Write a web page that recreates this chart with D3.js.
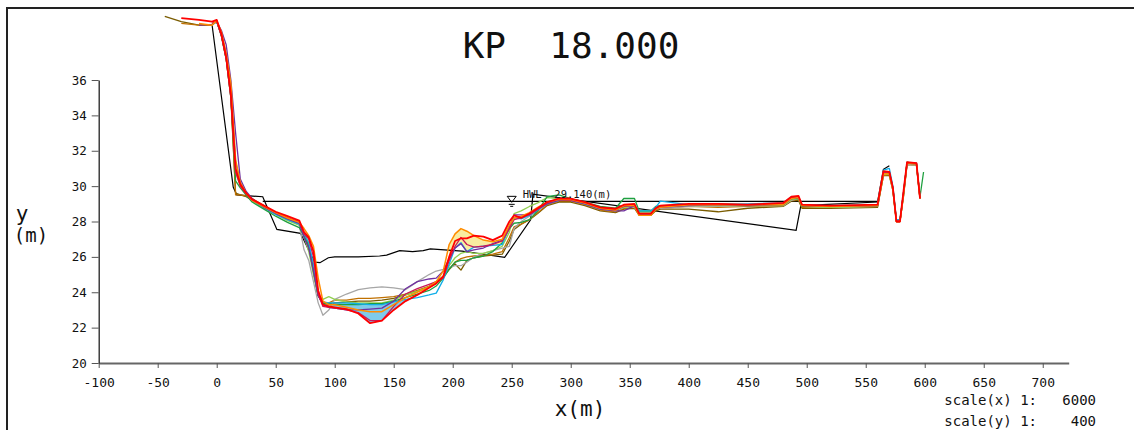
<!DOCTYPE html>
<html>
<head>
<meta charset="utf-8">
<script src="https://cdn.jsdelivr.net/npm/d3@7"></script>
<style>
  body { margin: 0; background: #fff; }
  text { font-family: "DejaVu Sans Mono", monospace; white-space: pre; }
</style>
</head>
<body>
<script>
// cross section KP 18.000 - survey lines

var xTicks = [-100, -50, 0, 50, 100, 150, 200, 250, 300, 350, 400, 450, 500, 550, 600, 650, 700];
var yTicks = [20, 22, 24, 26, 28, 30, 32, 34, 36];

// common distance grid (m) for the survey lines
var dist = [-44, -30, -15, -4, 0, 4, 8, 12, 16, 20, 25, 30, 40, 50, 60, 70, 74, 78, 82, 86,
  90, 95, 100, 110, 120, 130, 140, 150, 160, 170, 180, 186, 192, 197, 202, 207, 212, 218, 226, 234,
  242, 248, 252, 258, 265, 272, 280, 290, 300, 312, 325, 338, 345, 354, 358, 368, 372, 376, 400, 425,
  450, 480, 487, 493, 496, 520, 560, 565, 570, 573, 576, 579, 582, 585, 593, 596, 599];

// elevations (m), null = not surveyed
var olive = [39.6, 39.3, 39.1, 39.1, 39.35, 38.5, 37.2, 35.0, 29.6, 29.5, 29.4, 29.2, 28.85, 28.5, 28.15, 27.85, 27.2, 26.6, 25.1, 23.8,
  23.4, 23.35, 23.4, 23.45, 23.5, 23.5, 23.55, 23.65, 23.85, 24.05, 24.3, 24.5, 24.85, 25.3, 25.6, 25.25, 25.8, 25.95, 26.05, 26.1,
  26.15, 26.9, 27.55, 27.85, 28.1, 28.45, 28.9, 29.1, 29.1, 28.9, 28.6, 28.5, 28.7, 28.75, 28.35, 28.35, 28.6, 28.7, 28.7, 28.55,
  28.75, 28.85, 29.15, 29.2, 28.75, 28.75, 28.8, 30.6, 30.6, 29.75, 28.0, 28.0, 29.4, 31.2, 31.2, 29.3, null];
var brown = [null, 39.2, 39.1, 39.1, 39.35, 38.5, 37.3, 35.3, 29.5, 29.5, 29.45, 29.3, 28.9, 28.5, 28.2, 27.9, 27.3, 26.7, 25.3, 23.9,
  23.4, 23.4, 23.55, 23.55, 23.65, 23.65, 23.7, 23.75, 23.9, 24.1, 24.35, 24.6, 24.9, 25.3, 25.7, 25.9, 26.0, 26.05, 26.1, 26.15,
  26.3, 27.1, 27.7, 27.85, 28.1, 28.5, 28.95, 29.15, 29.15, 28.95, 28.65, 28.55, 28.75, 28.8, 28.4, 28.4, 28.65, 28.75, 28.85, 28.8,
  28.85, 28.9, 29.2, 29.25, 28.8, 28.8, 28.85, 30.6, 30.65, 29.8, 28.0, 28.0, 29.5, 31.25, 31.2, 29.3, null];
var gray = [null, null, null, null, 39.3, 38.6, 37.4, 35.4, 31.0, 30.1, 29.6, 29.2, 28.8, 28.45, 28.1, 27.8, 26.4, 25.8, 24.6, 23.4,
  22.7, 23.0, 23.6, 23.9, 24.15, 24.25, 24.3, 24.25, 24.15, 24.6, 25.0, 25.2, 25.3, 25.4, 25.5, 25.5, 25.7, 26.0, 26.2, 26.35,
  26.5, 26.6, 27.6, 28.0, 28.3, 28.6, 29.0, 29.2, 29.2, 29.0, 28.7, 28.6, 28.8, 28.8, 28.5, 28.5, 28.7, 28.75, 28.85, 28.85,
  28.9, 28.9, 29.2, 29.3, 28.85, 28.8, 28.85, 30.7, 30.7, 29.8, 28.05, 28.05, 29.5, 31.25, 31.2, 29.35, null];
var lgreen = [null, null, null, 39.2, 39.3, 38.6, 37.3, 35.2, 30.8, 30.0, 29.55, 29.15, 28.75, 28.4, 28.05, 27.8, 27.1, 26.3, 25.0, 23.8,
  23.6, 23.75, 23.6, 23.45, 23.4, 23.4, 23.4, 23.55, 23.85, 24.05, 24.3, 24.55, 24.9, 25.5, 25.95, 26.2, 26.3, 26.2, 26.2, 26.35,
  26.6, 27.4, 28.45, 28.6, 28.85, 29.05, 29.35, 29.3, 29.25, 29.05, 28.75, 28.65, 28.8, 28.85, 28.55, 28.55, 28.8, 28.85, 28.9, 28.9,
  28.9, 28.9, 29.25, 29.3, 28.85, 28.8, 28.85, 30.7, 30.7, 29.8, 28.0, 28.0, 29.5, 31.3, 31.25, 29.3, null];
var green = [null, null, null, 39.15, 39.3, 38.5, 37.2, 35.0, 30.3, 29.9, 29.5, 29.1, 28.7, 28.3, 27.95, 27.65, 27.2, 26.6, 25.2, 23.8,
  23.35, 23.35, 23.3, 23.3, 23.3, 23.35, 23.35, 23.5, 23.7, 23.9, 24.1, 24.35, 24.8, 25.3, 25.7, 25.8, 25.8, 25.95, 26.05, 26.3,
  26.8, 27.6, 27.9, 27.95, 28.1, 28.6, 29.4, 29.5, 29.3, 29.1, 28.85, 28.75, 29.3, 29.3, 28.6, 28.6, 28.85, 28.9, 28.95, 29.0,
  28.95, 28.95, 29.3, 29.3, 28.85, 28.85, 28.9, 30.8, 30.8, 29.9, 28.05, 28.05, 29.6, 31.35, 31.25, 29.4, 30.8];
var sky = [null, null, null, 39.1, 39.3, 38.6, 37.5, 35.6, 31.4, 30.2, 29.6, 29.2, 28.8, 28.4, 28.1, 27.85, 27.3, 26.8, 25.6, 23.9,
  23.45, 23.4, 23.4, 23.4, 23.35, 23.3, 23.3, 23.45, 23.6, 23.7, 23.85, 23.95, 24.7, 25.6, 26.5, 26.8, 26.3, 26.55, 26.6, 26.65,
  26.7, 27.7, 28.2, 28.15, 28.35, 28.65, 29.0, 29.2, 29.2, 29.0, 28.7, 28.65, 28.85, 28.85, 28.6, 28.6, 28.8, 29.15, 28.95, 28.95,
  29.0, 29.05, 29.4, 29.4, 28.95, 28.9, 28.95, 30.9, 31.0, 30.0, 28.1, 28.1, 29.6, 31.3, 31.3, 29.4, null];
var purple = [null, null, 39.1, 39.15, 39.3, 38.8, 38.0, 36.0, 33.0, 30.4, 29.7, 29.3, 28.8, 28.45, 28.15, 27.9, 27.1, 26.5, 25.2, 23.8,
  23.3, 23.15, 23.1, 23.0, 23.0, 23.05, 23.1, 23.5, 24.2, 24.6, 24.75, 24.8, 25.2, 25.9, 26.5, 26.75, 26.3, 26.4, 26.5, 26.75,
  26.95, 27.7, 28.37, 28.37, 28.37, 28.7, 29.0, 29.2, 29.2, 29.0, 28.7, 28.6, 28.6, 28.9, 28.4, 28.4, 28.7, 28.8, 28.9, 28.95,
  28.9, 28.95, 29.3, 29.35, 28.9, 28.85, 28.9, 30.75, 30.8, 29.9, 28.05, 28.05, 29.6, 31.3, 31.25, 29.3, null];
var crimson = [null, null, null, 39.2, 39.3, 38.5, 37.2, 35.0, 30.8, 30.0, 29.55, 29.2, 28.85, 28.5, 28.2, 28.0, 27.3, 27.0, 26.0, 23.9,
  23.2, 23.15, 23.1, 23.0, 22.85, 22.4, 22.4, 23.2, 23.9, 24.2, 24.45, 24.6, 24.8, 25.8, 26.6, 27.1, 26.7, 26.55, 26.6, 26.7,
  26.9, 27.6, 28.1, 28.2, 28.4, 28.7, 29.05, 29.25, 29.2, 29.05, 28.75, 28.65, 28.85, 28.9, 28.45, 28.45, 28.75, 28.85, 28.95, 28.95,
  28.95, 29.0, 29.35, 29.4, 28.9, 28.85, 28.9, 30.8, 30.75, 29.9, 28.0, 28.0, 29.6, 31.3, 31.3, 29.35, null];
var orange = [null, null, 39.2, 39.1, 39.35, 38.7, 37.5, 35.8, 31.5, 30.2, 29.6, 29.2, 28.85, 28.5, 28.2, 27.95, 27.6, 27.2, 26.6, 24.8,
  23.5, 23.3, 23.3, 23.15, 23.0, 22.9, 22.9, 23.3, 23.7, 24.0, 24.3, 24.6, 25.2, 26.7, 27.3, 27.6, 27.45, 27.2, 26.95, 26.85,
  27.0, 27.8, 28.2, 28.3, 28.5, 28.8, 29.1, 29.25, 29.25, 29.05, 28.75, 28.65, 28.9, 28.9, 28.35, 28.35, 28.7, 28.8, 28.95, 28.95,
  28.95, 28.95, 29.3, 29.35, 28.9, 28.85, 28.9, 30.7, 30.7, 29.8, 28.0, 28.0, 29.5, 31.3, 31.25, 29.3, null];
var red = [null, 39.5, 39.4, 39.3, 39.4, 38.6, 37.3, 35.2, 31.0, 30.1, 29.6, 29.25, 28.9, 28.55, 28.3, 28.05, 27.4, 27.1, 26.3, 24.1,
  23.3, 23.2, 23.15, 23.05, 22.8, 22.25, 22.4, 23.0, 23.5, 23.85, 24.25, 24.5, 24.9, 26.0, 26.9, 27.05, 27.05, 27.2, 27.15, 26.95,
  27.2, 28.0, 28.35, 28.2, 28.45, 28.75, 29.1, 29.3, 29.3, 29.1, 28.8, 28.72, 28.95, 29.0, 28.45, 28.45, 28.75, 28.9, 29.0, 29.0,
  28.95, 29.05, 29.4, 29.45, 28.95, 28.9, 28.95, 30.85, 30.8, 29.9, 28.0, 28.0, 29.7, 31.35, 31.3, 29.3, null];

// old reference section (black)
var oldX = [-4, 14, 17, 39, 51, 71, 83, 87.5, 94.6, 100, 120, 138, 144, 155, 166, 175, 181, 208, 244, 266, 268, 491, 495, 560, 565, 570];
var oldY = [39.15, 29.95, 29.5, 29.4, 27.55, 27.33, 25.7, 25.67, 25.95, 26.0, 26.0, 26.05, 26.1, 26.35, 26.3, 26.35, 26.45, 26.33, 25.97, 28.1, 29.55, 27.5, 28.9, 29.1, 30.95, 31.15];

var hwl = 29.14;
var hwlFrom = 39, hwlTo = 560, hwlMark = 250;

var series = [
  {name: "olive", y: olive, color: "#7a5c00", w: 1.3},
  {name: "brown", y: brown, color: "#c07000", w: 1.3},
  {name: "gray", y: gray, color: "#a6a6a6", w: 1.3},
  {name: "lgreen", y: lgreen, color: "#92d050", w: 1.3},
  {name: "green", y: green, color: "#1fa040", w: 1.3},
  {name: "sky", y: sky, color: "#10aee8", w: 1.3},
  {name: "purple", y: purple, color: "#7030a0", w: 1.3},
  {name: "crimson", y: crimson, color: "#c8185a", w: 1.3},
  {name: "orange", y: orange, color: "#ff8c00", w: 1.5},
  {name: "red", y: red, color: "#ff0000", w: 1.8}
];

var W = 1134, H = 430;
var svg = d3.select("body").append("svg").attr("width", W).attr("height", H);

// frame
svg.append("rect").attr("x", 7).attr("y", 8).attr("width", 1150).attr("height", 450)
  .attr("fill", "none").attr("stroke", "#222").attr("stroke-width", 2);

var x = d3.scaleLinear().domain([-100, 722]).range([98.7, 1068.7]);
var y = d3.scaleLinear().domain([20, 36]).range([363, 80]);

// axes
var xAxis = svg.append("g").attr("transform", "translate(0," + y(20) + ")")
  .call(d3.axisBottom(x).tickValues(xTicks).tickSize(5).tickSizeOuter(0).tickFormat(function(d){ return String(d); }));
xAxis.select(".domain").attr("stroke", "#666").attr("stroke-width", 2);
xAxis.selectAll(".tick line").attr("stroke", "#555");
xAxis.selectAll("text").attr("dy", null).attr("y", 24).attr("fill", "#111")
  .style("font-size", "13px").style("font-family", "DejaVu Sans Mono");

var yAxis = svg.append("g").attr("transform", "translate(" + x(-100) + ",0)")
  .call(d3.axisLeft(y).tickValues(yTicks).tickSize(7).tickSizeOuter(0));
yAxis.select(".domain").attr("stroke", "#222").attr("stroke-width", 1.3);
yAxis.selectAll(".tick line").attr("stroke", "#555");
yAxis.selectAll("text").attr("x", -12).attr("fill", "#111")
  .style("font-size", "12.5px").style("font-family", "DejaVu Sans Mono");

// fills between sections
var pts = function(arr) { return dist.map(function(d, i){ return {x: d, v: arr[i]}; }); };
var fills = [
  {top: sky, bottom: red, from: 88, to: 165, color: "#7ecbea"},
  {top: orange, bottom: sky, from: 196, to: 250, color: "#f9eca0"}
];
fills.forEach(function(f) {
  var rows = dist.map(function(d, i){ return {x: d, t: f.top[i], b: f.bottom[i]}; })
    .filter(function(r){ return r.x >= f.from && r.x <= f.to; });
  svg.append("path").datum(rows)
    .attr("fill", f.color).attr("stroke", "none")
    .attr("d", d3.area().x(function(r){ return x(r.x); })
      .y0(function(r){ return y(r.b); }).y1(function(r){ return y(r.t); }));
});

// HWL line
svg.append("line").attr("x1", x(hwlFrom)).attr("x2", x(hwlTo))
  .attr("y1", y(hwl)).attr("y2", y(hwl)).attr("stroke", "#000").attr("stroke-width", 1.2);

// old section
svg.append("path").datum(oldX.map(function(d, i){ return [d, oldY[i]]; }))
  .attr("fill", "none").attr("stroke", "#000").attr("stroke-width", 1.2)
  .attr("d", d3.line().x(function(p){ return x(p[0]); }).y(function(p){ return y(p[1]); }));

// survey lines
var line = d3.line().defined(function(p){ return p.v != null; })
  .x(function(p){ return x(p.x); }).y(function(p){ return y(p.v); });
svg.selectAll(".sec").data(series).enter().append("path")
  .attr("class", "sec")
  .attr("fill", "none")
  .attr("stroke", function(d){ return d.color; })
  .attr("stroke-width", function(d){ return d.w; })
  .attr("stroke-linejoin", "round")
  .attr("d", function(d){ return line(pts(d.y)); });

// HWL mark
var mx = x(hwlMark), my = y(hwl);
svg.append("path")
  .attr("d", "M" + (mx - 4.5) + "," + (my - 5) + "L" + (mx + 4.5) + "," + (my - 5) + "L" + mx + "," + (my + 1) + "Z")
  .attr("fill", "none").attr("stroke", "#000").attr("stroke-width", 1);
svg.append("line").attr("x1", mx - 3).attr("x2", mx + 3).attr("y1", my + 3).attr("y2", my + 3).attr("stroke", "#000");
svg.append("line").attr("x1", mx - 1.5).attr("x2", mx + 1.5).attr("y1", my + 5).attr("y2", my + 5).attr("stroke", "#000");
svg.append("text").attr("x", mx + 11).attr("y", my - 3)
  .style("font-size", "10.5px").attr("fill", "#111")
  .text("HWL  " + hwl.toFixed(3) + "(m)");

// titles
svg.append("text").attr("x", 571).attr("y", 58).attr("text-anchor", "middle")
  .style("font-size", "36px").attr("fill", "#111").text("KP  18.000");
svg.append("text").attr("x", 580).attr("y", 416).attr("text-anchor", "middle")
  .style("font-size", "21px").attr("fill", "#111").text("x(m)");
svg.append("text").attr("x", 22).attr("y", 221).attr("text-anchor", "middle")
  .style("font-size", "21px").attr("fill", "#111").text("y");
svg.append("text").attr("x", 31).attr("y", 242).attr("text-anchor", "middle")
  .style("font-size", "19px").attr("fill", "#111").text("(m)");

svg.append("text").attr("x", 1096).attr("y", 405).attr("text-anchor", "end")
  .style("font-size", "14px").attr("fill", "#111").text("scale(x) 1:   6000");
svg.append("text").attr("x", 1096).attr("y", 426).attr("text-anchor", "end")
  .style("font-size", "14px").attr("fill", "#111").text("scale(y) 1:    400");
</script>
</body>
</html>
